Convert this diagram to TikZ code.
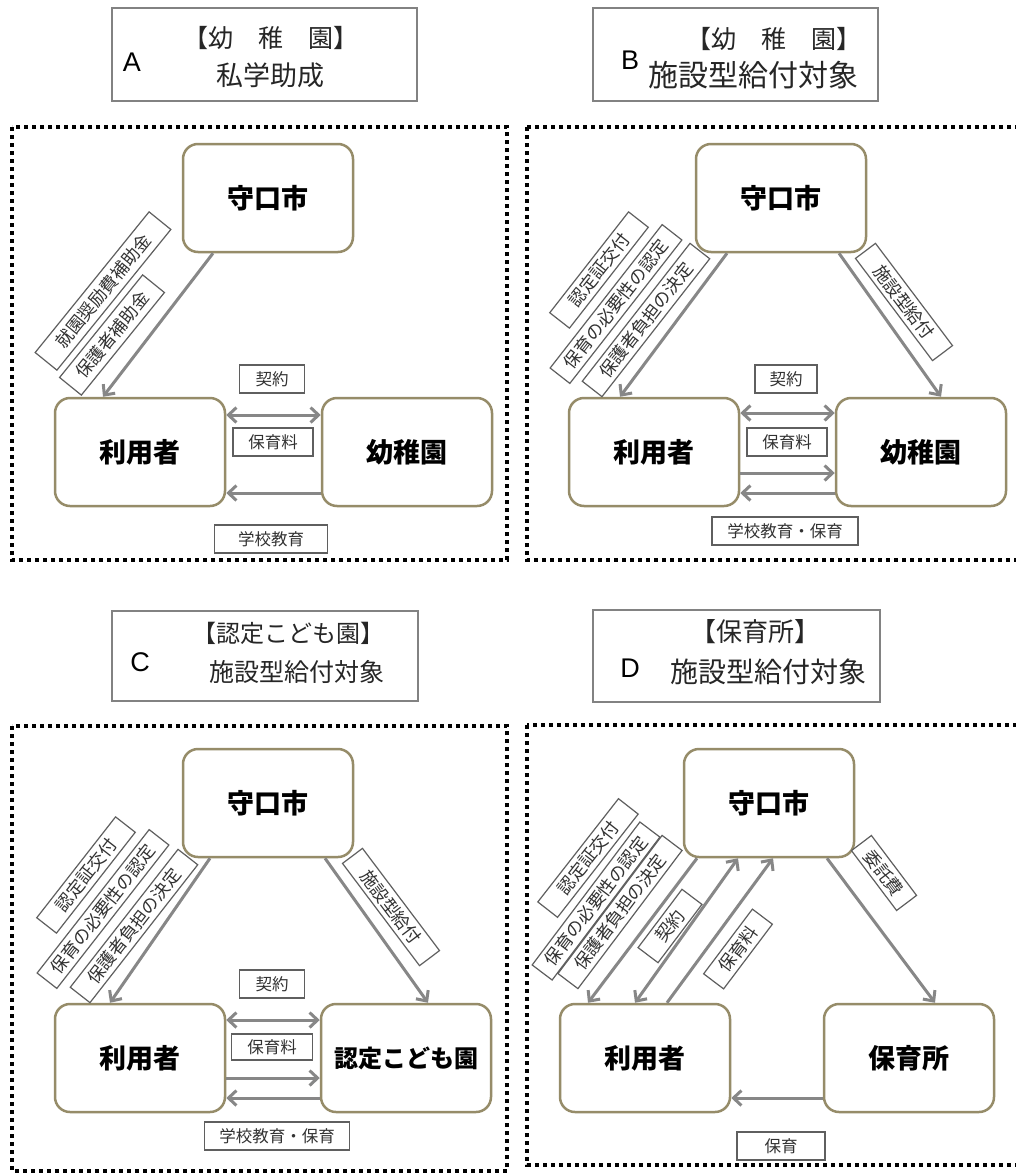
\documentclass[tikz,border=0pt]{standalone}
\usepackage{fontspec}
\newfontfamily\cjk{Noto Sans CJK JP}
\newfontfamily\lat{Liberation Sans}
\usetikzlibrary{arrows.meta}
\definecolor{nodeb}{RGB}{150,140,105}
\definecolor{arrc}{RGB}{135,135,135}
\definecolor{lblb}{RGB}{95,95,95}
\definecolor{lblt}{RGB}{50,50,50}
\definecolor{titb}{RGB}{130,130,130}
\begin{document}
\begin{tikzpicture}[x=1pt,y=-1pt,
 mainbox/.style={draw=nodeb, line width=2.5pt, rounded corners=15pt, fill=white, minimum width=170pt, minimum height=108pt, font=\cjk\bfseries\fontsize{27}{30}\selectfont, inner sep=0pt},
 lbl/.style={draw=lblb, line width=1.2pt, fill=white, text=lblt, font=\cjk\fontsize{16.5}{17}\selectfont, inner sep=0pt, minimum height=28pt},
 dl/.style={lbl, minimum height=25pt, font=\cjk\fontsize{17.5}{18}\selectfont},
 arr/.style={draw=arrc, line width=3pt, -{Straight Barb[length=8pt,width=15pt]}},
 darr/.style={draw=arrc, line width=3pt, {Straight Barb[length=8pt,width=15pt]}-{Straight Barb[length=8pt,width=15pt]}},
 framebox/.style={draw=black, line width=4pt, dash pattern=on 4pt off 4pt},
 titbox/.style={draw=titb, line width=2pt, fill=white, inner sep=0pt},
 tline/.style={font=\cjk\fontsize{#1}{#1}\selectfont, inner sep=0pt, text=black!85},
 tletter/.style={font=\lat\fontsize{27}{27}\selectfont, inner sep=0pt}
]
\useasboundingbox[fill=white] (0,0) rectangle (1016,1175);

% ---------- frames ----------
\draw[framebox] (12,127) rectangle (507,560);
\draw[framebox] (527,127) rectangle (1024,560);
\draw[framebox] (12,726) rectangle (507,1171);
\draw[framebox] (527,725) rectangle (1024,1165);

% ---------- titles ----------
\node[titbox, minimum width=305pt, minimum height=93pt] (tA) at (264.5,54.5) {};
\node[tletter] (tAl) at (132,62) {A};
\node[tline=25] (tA1) at (271,38) {【幼　稚　園】};
\node[tline=27] (tA2) at (270,75) {私学助成};

\node[titbox, minimum width=285pt, minimum height=93pt] (tB) at (735.5,54.5) {};
\node[tletter] (tBl) at (630,60) {B};
\node[tline=25] (tB1) at (774,39) {【幼　稚　園】};
\node[tline=30] (tB2) at (753,75) {施設型給付対象};

\node[titbox, minimum width=306pt, minimum height=90pt] (tC) at (265,656) {};
\node[tletter] (tCl) at (140,662) {C};
\node[tline=24] (tC1) at (288,633) {【認定こども園】};
\node[tline=25] (tC2) at (297,672) {施設型給付対象};

\node[titbox, minimum width=287pt, minimum height=92pt] (tD) at (736.5,656) {};
\node[tletter] (tDl) at (630,668) {D};
\node[tline=26] (tD1) at (755,632) {【保育所】};
\node[tline=28] (tD2) at (768,672) {施設型給付対象};

% ---------- A ----------
\node[mainbox] (sA) at (268,198) {守口市};
\node[mainbox] (uA) at (140,452) {利用者};
\node[mainbox] (kA) at (407,452) {幼稚園};
\draw[arr] (sA.south -| 213,0) -- (uA.north -| 103,0);
\draw[darr] (uA.east |- 0,415) -- (kA.west |- 0,415);
\draw[arr] (kA.west |- 0,493) -- (uA.east |- 0,493);
\node[lbl, minimum width=65pt] (aA1) at (272,379) {契約};
\node[lbl, minimum width=80pt] (aA2) at (273,442) {保育料};
\node[lbl, minimum width=113pt] (aA3) at (271,539) {学校教育};
\node[dl, minimum width=181pt, minimum height=28pt, rotate=51] (dA1) at (103,291) {就園奨励費補助金};
\node[dl, minimum width=132pt, minimum height=28pt, rotate=51] (dA2) at (112,335) {保護者補助金};

% ---------- B ----------
\node[mainbox] (sB) at (781,198) {守口市};
\node[mainbox] (uB) at (654,452) {利用者};
\node[mainbox] (kB) at (921,452) {幼稚園};
\draw[arr] (sB.south -| 727,0) -- (uB.north -| 620,0);
\draw[arr] (sB.south -| 839,0) -- (kB.north -| 941,0);
\draw[darr] (uB.east |- 0,413) -- (kB.west |- 0,413);
\draw[arr] (uB.east |- 0,473) -- (kB.west |- 0,473);
\draw[arr] (kB.west |- 0,493) -- (uB.east |- 0,493);
\node[lbl, minimum width=62pt] (aB1) at (786,379) {契約};
\node[lbl, minimum width=80pt] (aB2) at (787,442) {保育料};
\node[lbl, minimum width=146pt] (aB3) at (785,531) {学校教育・保育};
\node[dl, minimum width=128pt, rotate=52] (dB1) at (599,270) {認定証交付};
\node[dl, minimum width=182pt, rotate=52] (dB2) at (616,304) {保育の必要性の認定};
\node[dl, minimum width=175pt, rotate=52] (dB3) at (646,320) {保護者負担の決定};
\node[dl, minimum width=128pt, rotate=-53] (dB4) at (904,302) {施設型給付};

% ---------- C ----------
\node[mainbox] (sC) at (268,803) {守口市};
\node[mainbox] (uC) at (140,1058) {利用者};
\node[mainbox, font=\cjk\bfseries\fontsize{24}{26}\selectfont] (kC) at (406,1058) {認定こども園};
\draw[arr] (sC.south -| 210,0) -- (uC.north -| 110,0);
\draw[arr] (sC.south -| 325,0) -- (kC.north -| 428,0);
\draw[darr] (uC.east |- 0,1020) -- (kC.west |- 0,1020);
\draw[arr] (uC.east |- 0,1078) -- (kC.west |- 0,1078);
\draw[arr] (kC.west |- 0,1098) -- (uC.east |- 0,1098);
\node[lbl, minimum width=65pt] (aC1) at (272,984) {契約};
\node[lbl, minimum width=81pt, minimum height=26pt] (aC2) at (272,1047) {保育料};
\node[lbl, minimum width=145pt] (aC3) at (277,1136) {学校教育・保育};
\node[dl, minimum width=128pt, rotate=52] (dC1) at (86,875) {認定証交付};
\node[dl, minimum width=182pt, rotate=52] (dC2) at (103,909) {保育の必要性の認定};
\node[dl, minimum width=175pt, rotate=52] (dC3) at (134,926) {保護者負担の決定};
\node[dl, minimum width=128pt, rotate=-53] (dC4) at (391,907) {施設型給付};

% ---------- D ----------
\node[mainbox] (sD) at (769,803) {守口市};
\node[mainbox] (uD) at (645,1058) {利用者};
\node[mainbox] (kD) at (909,1058) {保育所};
\draw[arr] (sD.south -| 697,0) -- (uD.north -| 588,0);
\draw[darr] (sD.south -| 738,0) -- (uD.north -| 635,0);
\draw[arr] (uD.north -| 667,0) -- (sD.south -| 773,0);
\draw[arr] (sD.south -| 827,0) -- (kD.north -| 935,0);
\draw[arr] (kD.west |- 0,1098) -- (uD.east |- 0,1098);
\node[lbl, minimum width=88pt] (aD1) at (781,1146) {保育};
\node[dl, minimum width=131pt, rotate=52] (dD1) at (588,858) {認定証交付};
\node[dl, minimum width=179pt, rotate=53] (dD2) at (596,901) {保育の必要性の認定};
\node[dl, minimum width=173pt, rotate=53] (dD3) at (620,912) {保護者負担の決定};
\node[dl, minimum width=73pt, rotate=53] (dD4) at (670,926) {契約};
\node[dl, minimum width=81pt, rotate=53] (dD5) at (738,949) {保育料};
\node[dl, minimum width=75pt, rotate=-53] (dD6) at (884,873) {委託費};
\end{tikzpicture}
\end{document}
